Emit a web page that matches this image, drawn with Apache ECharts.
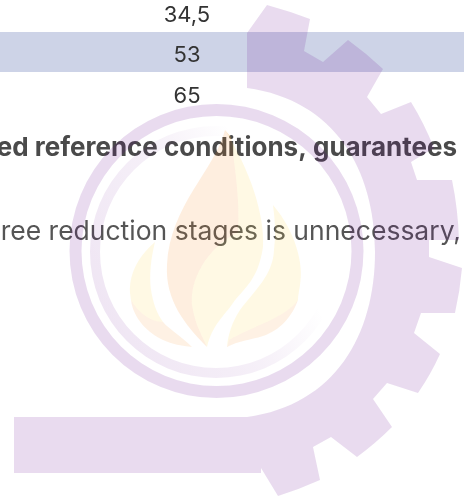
<!DOCTYPE html>
<html>
<head>
<meta charset="utf-8">
<style>html,body{margin:0;padding:0;background:#fff;overflow:hidden}#c{width:464px;height:497px}</style>
<script src="https://cdn.jsdelivr.net/npm/echarts@6/dist/echarts.min.js"></script>
</head>
<body>
<div id="c"></div>
<script>
const rowValues = ['34,5', '53', '65'];
const boldLine = 'ed reference conditions, guarantees';
const regularLine = 'ree reduction stages is unnecessary,';

const gearPath = 'M247 33 L267 5 Q289 11 310 19 L304 51 L323 62 L348 40 Q366 53 383 69 L367 97 L381 114 L411 102 Q424 123 434 148 L411 162 L417 180 L452 180 Q458 209 459 240 L429 240 L429 257 L462 268 Q460 291 455 313 L421 313 L414 333 L440 354 Q431 374 418 393 L387 383 L373 399 L392 427 Q376 443 357 457 L331 437 L313 447 L320 480 Q300 489 278 496 L261 468 L261 473 L14 473 L14 417 L247 417 C 335 405 375 335 375 252 C 375 170 335 100 247 88 Z';
const flameOrange = 'M225 130 C 215 170 170 205 167 265 C 165 300 185 325 207 347 C 202 335 195 325 192 305 C 190 280 205 250 238 232 C 240 200 235 170 231 137 Z';
const flameYellow = 'M225 130 L231 137 C 235 170 240 200 238 232 C 205 250 190 280 192 305 C 195 325 202 335 207 347 C 212 325 225 315 233 303 C 245 287 258 280 263 247 C 265 215 250 170 225 130 Z';
const flameRight = 'M273 205 C 296 232 304 265 300 285 C 299 292 298 296 298 300 C 285 318 255 325 229 340 L227 347 C 228 335 232 322 240 310 C 255 290 273 275 274 250 C 276 235 275 220 273 205 Z';
const flameRightTint = 'M227 347 C 238 341 250 340 263 336 C 275 332 290 322 298 300 C 285 318 255 325 229 340 Z';
const flameLeft = 'M155 242 C 140 255 129 272 130 293 L131 300 C 138 312 150 322 163 322 C 157 314 153 303 151 290 C 149 275 151 258 155 242 Z';
const flameLeftTint = 'M131 300 C 133 318 148 333 163 340 C 172 344 182 346 192 347 C 180 335 170 330 163 322 C 150 322 138 312 131 300 Z';

let shapeCount = 0;
function pathEl(d, fill, opacity, z) {
  const name = 'wmShape' + (shapeCount++);
  echarts.graphic.registerShape(name, echarts.graphic.extendPath(d));
  return { type: name, z: z, silent: true, style: { fill: fill, opacity: opacity } };
}
function textEl(t, x, y, align, size, weight, fill) {
  return { type: 'text', z: 5, x: x, y: y - size * 0.75, style: { text: t, font: weight + ' ' + size + 'px Inter, sans-serif', fill: fill, textAlign: align, textVerticalAlign: 'top' } };
}

const rowBase = [20.5, 60.5, 101.5];
const elements = [
  { type: 'rect', z: 1, shape: { x: 0, y: 32, width: 464, height: 40 }, style: { fill: '#cdd3e7' } }
];
rowValues.forEach((v, i) => elements.push(textEl(v, 187, rowBase[i], 'center', 22, 400, '#333333')));
elements.push(textEl(boldLine, 457, 155, 'right', 26, 700, '#4a4a4a'));
elements.push(textEl(regularLine, 461, 238, 'right', 26.5, 400, '#555555'));

const purple = '#62008c';
elements.push(pathEl(gearPath, purple, 0.14, 10));
elements.push({ type: 'ring', z: 10, silent: true, shape: { cx: 216.5, cy: 251, r: 147, r0: 135 }, style: { fill: purple, opacity: 0.14 } });
elements.push({ type: 'ring', z: 10, silent: true, shape: { cx: 216, cy: 252, r: 126, r0: 116 }, style: {
  fill: { type: 'linear', x: 0, y: 0.7, x2: 1, y2: 0.2, colorStops: [
    { offset: 0, color: 'rgba(98,0,140,0.10)' },
    { offset: 0.45, color: 'rgba(98,0,140,0.06)' },
    { offset: 0.72, color: 'rgba(98,0,140,0)' },
    { offset: 1, color: 'rgba(98,0,140,0)' } ] } } });
elements.push(pathEl(flameOrange, '#f98a1e', 0.14, 11));
elements.push(pathEl(flameYellow, '#ffd94a', 0.15, 11));
elements.push(pathEl(flameRight, '#ffd94a', 0.15, 11));
elements.push(pathEl(flameRightTint, '#f98a1e', 0.12, 11));
elements.push(pathEl(flameLeft, '#ffd94a', 0.15, 11));
elements.push(pathEl(flameLeftTint, '#f98a1e', 0.12, 11));

const chart = echarts.init(document.getElementById('c'), null, { renderer: 'canvas', width: 464, height: 497 });
chart.setOption({ animation: false, backgroundColor: '#ffffff', graphic: { elements: elements } });
</script>
</body>
</html>
